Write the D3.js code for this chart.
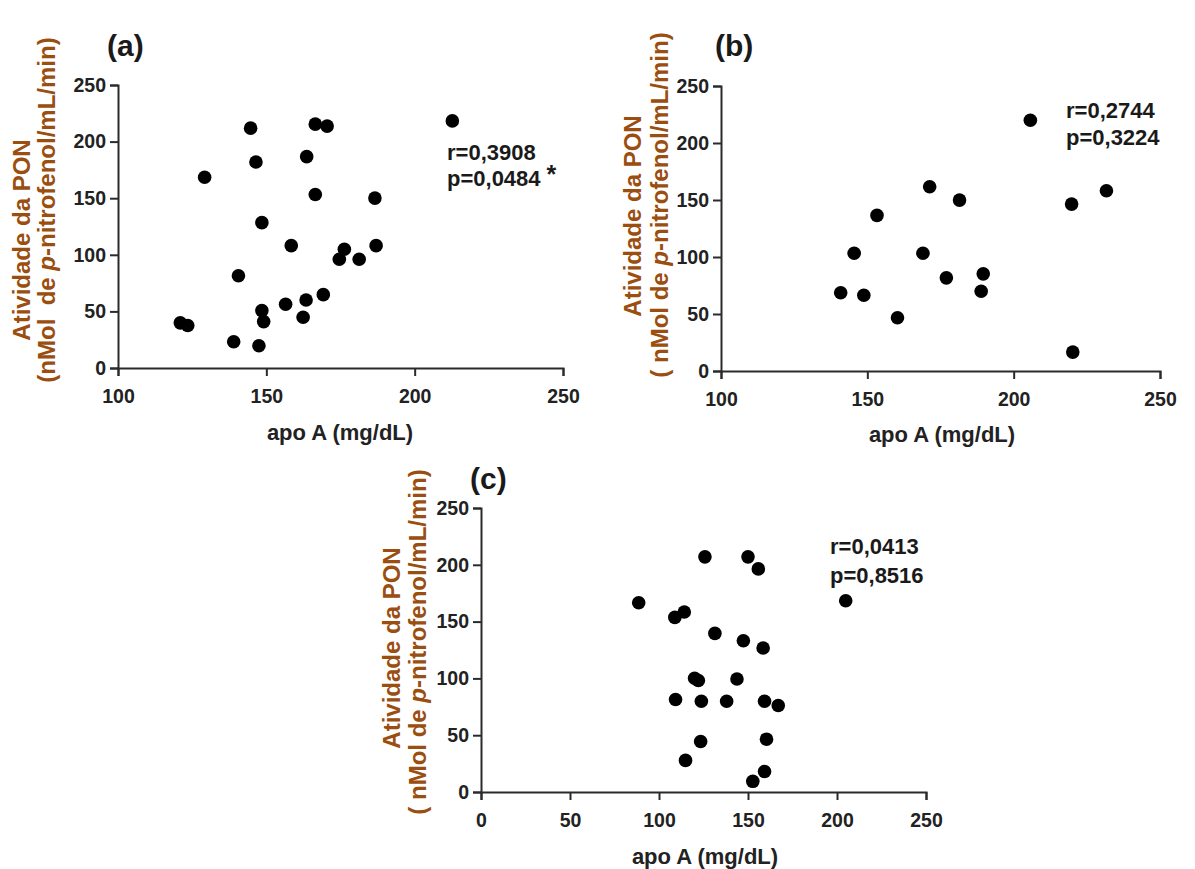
<!DOCTYPE html>
<html>
<head>
<meta charset="utf-8">
<script src="https://cdn.jsdelivr.net/npm/d3@7"></script>
<style>
  html, body { margin: 0; padding: 0; background: #fff; }
  svg { display: block; }
  text { font-family: "Liberation Sans", Arial, sans-serif; font-weight: bold; }
</style>
</head>
<body>
<svg id="chart" width="1195" height="869"></svg>
<script>
// ---------------- DATA ----------------
const panelLetters = ["(a)", "(b)", "(c)"];
const xTitle = "apo A (mg/dL)";
const yTitleLine1 = "Atividade da PON";
const yTitleLine2Prefix = ["(nMol  de ", "( nMol de ", "( nMol de "];
const yTitleItalic = "p";
const yTitleLine2Suffix = "-nitrofenol/mL/min)";

const yTicks = [0, 50, 100, 150, 200, 250];
const xTicksAB = [100, 150, 200, 250];
const xTicksC = [0, 50, 100, 150, 200, 250];

const statsA = ["r=0,3908", "p=0,0484"];
const statsB = ["r=0,2744", "p=0,3224"];
const statsC = ["r=0,0413", "p=0,8516"];
const significanceA = "*";

// panel (a)
const apoA_a = [212.7, 144.7, 166.5, 170.5, 163.6, 146.5, 129.2, 166.5, 186.6, 148.5, 158.4, 187.0, 176.3, 174.6, 181.3, 140.6, 169.2, 156.5, 163.4, 148.5, 149.1, 162.4, 121.0, 123.5, 139.0, 147.5];
const pon_a  = [218.3, 211.9, 215.4, 213.7, 186.7, 182.0, 168.5, 153.3, 150.1, 128.4, 108.1, 108.1, 104.9, 96.1, 96.1, 81.5, 64.8, 56.3, 60.1, 50.7, 41.0, 44.8, 39.9, 37.5, 23.2, 19.6];

// panel (b)
const apoA_b = [205.7, 171.3, 181.5, 231.7, 219.8, 153.3, 145.5, 169.0, 189.6, 177.0, 140.9, 148.8, 188.9, 160.3, 220.2];
const pon_b  = [220.0, 161.6, 149.9, 158.1, 146.4, 136.5, 103.3, 103.3, 85.2, 81.7, 68.6, 66.5, 70.0, 46.7, 16.6];

// panel (c)
const apoA_c = [125.8, 150.0, 155.8, 88.6, 204.9, 108.9, 114.2, 131.4, 147.4, 158.5, 120.0, 122.1, 143.8, 109.3, 123.8, 138.0, 159.3, 167.0, 123.4, 160.4, 114.9, 159.3, 152.7];
const pon_c  = [207.0, 207.0, 196.4, 166.6, 168.3, 153.7, 158.4, 139.6, 133.2, 126.8, 100.1, 98.1, 99.5, 81.4, 79.9, 79.9, 79.9, 76.1, 44.5, 46.5, 27.8, 18.1, 9.4];

// ---------------- LAYOUT ----------------
const panels = [
  { letter: panelLetters[0], xs: apoA_a, ys: pon_a, xDomain: [100, 250], xTicks: xTicksAB,
    left: 118, right: 563, top: 85, bottom: 368, stats: statsA, star: significanceA,
    statsX: 447, statsY: [160, 186], letterX: 107, letterY: 56,
    xTitleX: 340, xTitleY: 440, yPre: yTitleLine2Prefix[0],
    l1x: 22, l1y: 240, l2x: 47, l2y: 210 },
  { letter: panelLetters[1], xs: apoA_b, ys: pon_b, xDomain: [100, 250], xTicks: xTicksAB,
    left: 721, right: 1160, top: 86, bottom: 371, stats: statsB, star: null,
    statsX: 1066, statsY: [118, 145], letterX: 715, letterY: 56,
    xTitleX: 942, xTitleY: 442, yPre: yTitleLine2Prefix[1],
    l1x: 633, l1y: 216, l2x: 660, l2y: 205 },
  { letter: panelLetters[2], xs: apoA_c, ys: pon_c, xDomain: [0, 250], xTicks: xTicksC,
    left: 481, right: 926, top: 508, bottom: 792, stats: statsC, star: null,
    statsX: 830, statsY: [554, 583], letterX: 470, letterY: 489,
    xTitleX: 705, xTitleY: 864, yPre: yTitleLine2Prefix[2],
    l1x: 392, l1y: 648, l2x: 418, l2y: 642 }
];

const svg = d3.select("#chart");
const axisColor = "#2b2b2b";
const labelColor = "#222";
const yTitleColor = "#9a4e10";

panels.forEach(p => {
  const x = d3.scaleLinear().domain(p.xDomain).range([p.left, p.right]);
  const y = d3.scaleLinear().domain([0, 250]).range([p.bottom, p.top]);
  const g = svg.append("g");

  const xa = g.append("g")
    .attr("transform", `translate(0,${p.bottom})`)
    .call(d3.axisBottom(x).tickValues(p.xTicks).tickSize(8).tickPadding(13).tickFormat(d3.format("d")));
  const ya = g.append("g")
    .attr("transform", `translate(${p.left},0)`)
    .call(d3.axisLeft(y).tickValues(yTicks).tickSize(8).tickPadding(4).tickFormat(d3.format("d")));

  [xa, ya].forEach(a => {
    a.attr("font-size", null).attr("font-family", null);
    a.select(".domain").attr("stroke", axisColor).attr("stroke-width", 2);
    a.selectAll(".tick line").attr("stroke", axisColor).attr("stroke-width", 2);
    a.selectAll(".tick text").attr("fill", labelColor).style("font-size", "19.5px")
      .style("font-family", '"Liberation Sans", Arial, sans-serif').style("font-weight", "bold");
  });

  g.selectAll("circle.pt").data(p.xs.map((v, i) => [v, p.ys[i]]))
    .enter().append("circle").attr("class", "pt")
    .attr("cx", d => x(d[0])).attr("cy", d => y(d[1]))
    .attr("r", 6.8).attr("fill", "#000");

  g.append("text").attr("x", p.letterX).attr("y", p.letterY)
    .attr("fill", "#1a1a1a").style("font-size", "30px").text(p.letter);

  g.append("text").attr("x", p.xTitleX).attr("y", p.xTitleY)
    .attr("text-anchor", "middle").attr("fill", labelColor)
    .style("font-size", "22px").text(xTitle);

  g.append("text")
    .attr("transform", `translate(${p.l1x},${p.l1y}) rotate(-90)`)
    .attr("text-anchor", "middle").attr("dy", "0.35em")
    .attr("fill", yTitleColor).style("font-size", "24px").text(yTitleLine1);
  const t2 = g.append("text")
    .attr("transform", `translate(${p.l2x},${p.l2y}) rotate(-90)`)
    .attr("text-anchor", "middle").attr("dy", "0.35em")
    .attr("fill", yTitleColor).style("font-size", "24px")
    .attr("xml:space", "preserve").style("white-space", "pre");
  t2.append("tspan").text(p.yPre);
  t2.append("tspan").style("font-style", "italic").text(yTitleItalic);
  t2.append("tspan").text(yTitleLine2Suffix);

  p.stats.forEach((s, i) => {
    g.append("text").attr("x", p.statsX).attr("y", p.statsY[i])
      .attr("fill", "#1a1a1a").style("font-size", "22px").text(s);
  });
  if (p.star) {
    const w = g.append("text").attr("x", p.statsX).attr("y", p.statsY[1]).style("font-size", "22px")
      .attr("fill", "#1a1a1a").text(p.stats[1]);
    const bw = w.node().getComputedTextLength();
    w.remove();
    g.append("text").attr("x", p.statsX + bw + 6).attr("y", p.statsY[1] - 3)
      .attr("fill", "#1a1a1a").style("font-size", "25px").text(p.star);
  }
});
</script>
</body>
</html>
